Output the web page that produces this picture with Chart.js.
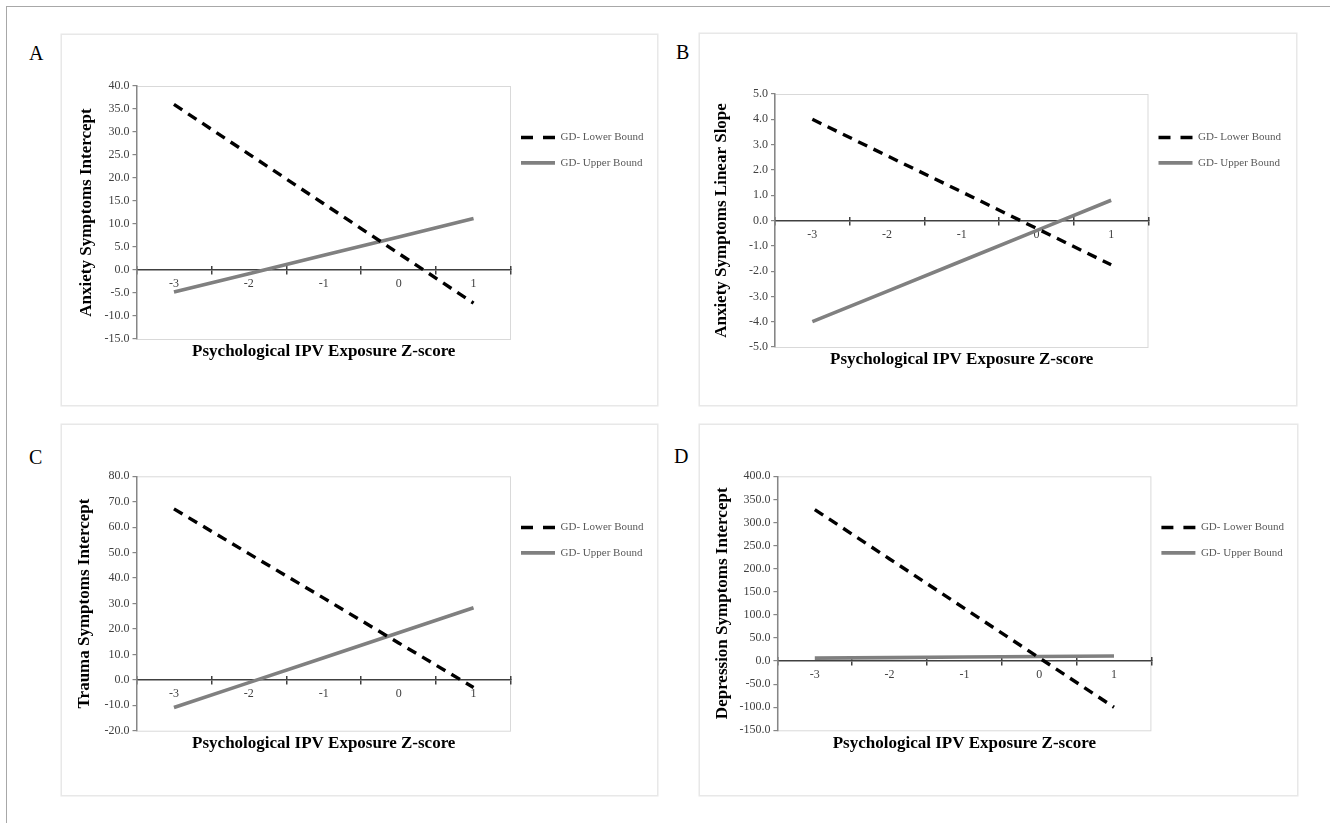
<!DOCTYPE html>
<html>
<head>
<meta charset="utf-8">
<script src="https://cdn.jsdelivr.net/npm/chart.js@4.4.1/dist/chart.umd.min.js"></script>
<style>
  body { margin: 0; background: #fff; width: 1330px; height: 823px; overflow: hidden; position: relative; }
  .frame { position: absolute; left: 6px; top: 6px; width: 1400px; height: 900px; border-top: 1.5px solid #a8a8a8; border-left: 1.5px solid #a8a8a8; }
  .panel { position: absolute; box-shadow: 0 0 0 1.5px #e8e8e8; background: #fff; }
  .panel canvas { position: absolute; left: 0; top: 0; }
  .letter { position: absolute; font-family: 'Liberation Serif', 'Times New Roman', serif; font-size: 20px; line-height: 20px; color: #000; }
</style>
</head>
<body>
<div class="frame"></div>

<div class="letter" style="left:29px; top:43px;">A</div>
<div class="letter" style="left:676px; top:42px;">B</div>
<div class="letter" style="left:29px; top:447px;">C</div>
<div class="letter" style="left:674px; top:446px;">D</div>

<div class="panel" style="left:62px; top:35px; width:595px; height:370px;"><canvas id="chartA" width="595" height="370"></canvas></div>
<div class="panel" style="left:700px; top:34px; width:596px; height:371px;"><canvas id="chartB" width="596" height="371"></canvas></div>
<div class="panel" style="left:62px; top:425px; width:595px; height:370px;"><canvas id="chartC" width="595" height="370"></canvas></div>
<div class="panel" style="left:700px; top:425px; width:597px; height:370px;"><canvas id="chartD" width="597" height="370"></canvas></div>

<script>
// data
const zLabels = ['-3', '-2', '-1', '0', '1'];

const anxInterceptLower = [36.0, 25.2, 14.4, 3.6, -7.2];
const anxInterceptUpper = [-4.8, -0.8, 3.2, 7.2, 11.2];

const anxSlopeLower = [4.0, 2.56, 1.13, -0.31, -1.75];
const anxSlopeUpper = [-4.0, -2.8, -1.6, -0.4, 0.8];

const traumaLower = [67.2, 49.6, 32.1, 14.5, -3.0];
const traumaUpper = [-10.9, -1.1, 8.7, 18.5, 28.3];

const depressionLower = [328, 221, 114, 7, -100];
const depressionUpper = [6.2, 7.4, 8.6, 9.8, 11.0];

const seriesNames = ['GD- Lower Bound', 'GD- Upper Bound'];
const xTitle = 'Psychological IPV Exposure Z-score';

const serif = "'Liberation Serif', 'Times New Roman', serif";
const legendFontSize = 11;

// legend width as chart.js computes it (padding + box + gap + text + 10)
const measureCtx = document.createElement('canvas').getContext('2d');
measureCtx.font = legendFontSize + 'px ' + serif;
const legendTextW = Math.max(...seriesNames.map(s => measureCtx.measureText(s).width));
const legendW = 10 + 34 + legendFontSize / 2 + legendTextW + 10;

// light grey box round the plot area (top + right edges show)
const plotFrame = {
  id: 'plotFrame',
  beforeDraw(chart) {
    const { ctx, chartArea: a } = chart;
    ctx.save();
    ctx.strokeStyle = '#d9d9d9';
    ctx.lineWidth = 1;
    ctx.strokeRect(a.left, a.top + 0.5, a.right - a.left - 0.5, a.bottom - a.top);
    ctx.restore();
  }
};

function makeChart(id, cfg) {
  const canvas = document.getElementById(id);
  const ctx = canvas.getContext('2d');
  const pad = {
    left: 0,
    top: cfg.area.top,
    right: canvas.width - cfg.area.right - legendW,
    bottom: canvas.height - cfg.area.bottom - 23.2
  };
  return new Chart(ctx, {
    type: 'line',
    data: {
      labels: zLabels,
      datasets: [
        {
          label: seriesNames[0],
          data: cfg.lower,
          borderColor: '#000000',
          borderWidth: 3.4,
          borderDash: [10, 7],
          borderCapStyle: 'butt',
          pointRadius: 0,
          tension: 0,
          fill: false
        },
        {
          label: seriesNames[1],
          data: cfg.upper,
          borderColor: '#808080',
          borderWidth: 3.6,
          borderCapStyle: 'butt',
          pointRadius: 0,
          tension: 0,
          fill: false
        }
      ]
    },
    options: {
      responsive: false,
      animation: false,
      layout: { padding: pad },
      plugins: {
        tooltip: { enabled: false },
        legend: {
          position: 'right',
          align: 'start',
          title: { display: true, text: '', font: { size: 10, lineHeight: 1 }, padding: { top: cfg.legendTop, bottom: 0 } },
          labels: {
            usePointStyle: true,
            pointStyle: 'line',
            pointStyleWidth: 34,
            padding: 10,
            color: '#595959',
            font: { family: serif, size: legendFontSize, lineHeight: 1.4 },
            // array text so the row height follows font lineHeight; copy line style from dataset
            generateLabels: chart => Chart.defaults.plugins.legend.labels.generateLabels(chart)
              .map(item => {
                const ds = chart.data.datasets[item.datasetIndex];
                return Object.assign(item, {
                  text: [item.text],
                  strokeStyle: ds.borderColor,
                  lineWidth: ds.borderWidth,
                  lineDash: ds.borderDash ? [12, 10] : [],
                  lineDashOffset: 0
                });
              })
          }
        },
        title: {
          display: true,
          position: 'bottom',
          fullSize: false,
          text: xTitle,
          color: '#000',
          font: { family: serif, size: 17, weight: 'bold' },
          padding: { top: 2.8, bottom: 0 }
        }
      },
      scales: {
        x: {
          type: 'category',
          position: { y: 0 },
          offset: true,
          grid: { offset: true, drawOnChartArea: false, tickLength: 4, color: '#404040', lineWidth: 1.5 },
          border: { color: '#404040', width: 1.5 },
          ticks: { color: '#404040', font: { family: serif, size: 12 }, padding: 3, maxRotation: 0, autoSkip: false }
        },
        x2: {
          type: 'category',
          position: { y: 0 },
          offset: true,
          grid: { offset: true, drawOnChartArea: false, tickLength: -4, color: '#404040', lineWidth: 1.5 },
          border: { display: false },
          ticks: { display: false }
        },
        y: {
          min: cfg.min,
          max: cfg.max,
          afterFit: scale => { scale.width = cfg.area.left; },
          grid: { drawOnChartArea: false, tickLength: 4, color: '#868686', lineWidth: 1.2 },
          border: { color: '#868686', width: 1.5 },
          ticks: {
            stepSize: cfg.step,
            color: '#404040',
            padding: 3,
            font: { family: serif, size: 12 },
            callback: v => v.toFixed(1)
          },
          title: {
            display: true,
            text: cfg.yTitle,
            color: '#000',
            font: { family: serif, size: 17, weight: 'bold' },
            padding: { top: cfg.yTitlePad, bottom: 0 }
          }
        }
      }
    },
    plugins: [plotFrame]
  });
}

makeChart('chartA', {
  lower: anxInterceptLower, upper: anxInterceptUpper,
  min: -15, max: 40, step: 5,
  yTitle: 'Anxiety Symptoms Intercept',
  yTitlePad: 14.8, legendTop: 26,
  area: { left: 74.5, top: 51, right: 449, bottom: 304 }
});

makeChart('chartB', {
  lower: anxSlopeLower, upper: anxSlopeUpper,
  min: -5, max: 5, step: 1,
  yTitle: 'Anxiety Symptoms Linear Slope',
  yTitlePad: 11.8, legendTop: 18,
  area: { left: 75, top: 60, right: 448.5, bottom: 313 }
});

makeChart('chartC', {
  lower: traumaLower, upper: traumaUpper,
  min: -20, max: 80, step: 10,
  yTitle: 'Trauma Symptoms Intercept',
  yTitlePad: 12.8, legendTop: 25.7,
  area: { left: 74.5, top: 51.3, right: 449, bottom: 305.7 }
});

makeChart('chartD', {
  lower: depressionLower, upper: depressionUpper,
  min: -150, max: 400, step: 50,
  yTitle: 'Depression Symptoms Intercept',
  yTitlePad: 12.2, legendTop: 25.7,
  area: { left: 77.4, top: 51.3, right: 451.4, bottom: 305.3 }
});
</script>
</body>
</html>
